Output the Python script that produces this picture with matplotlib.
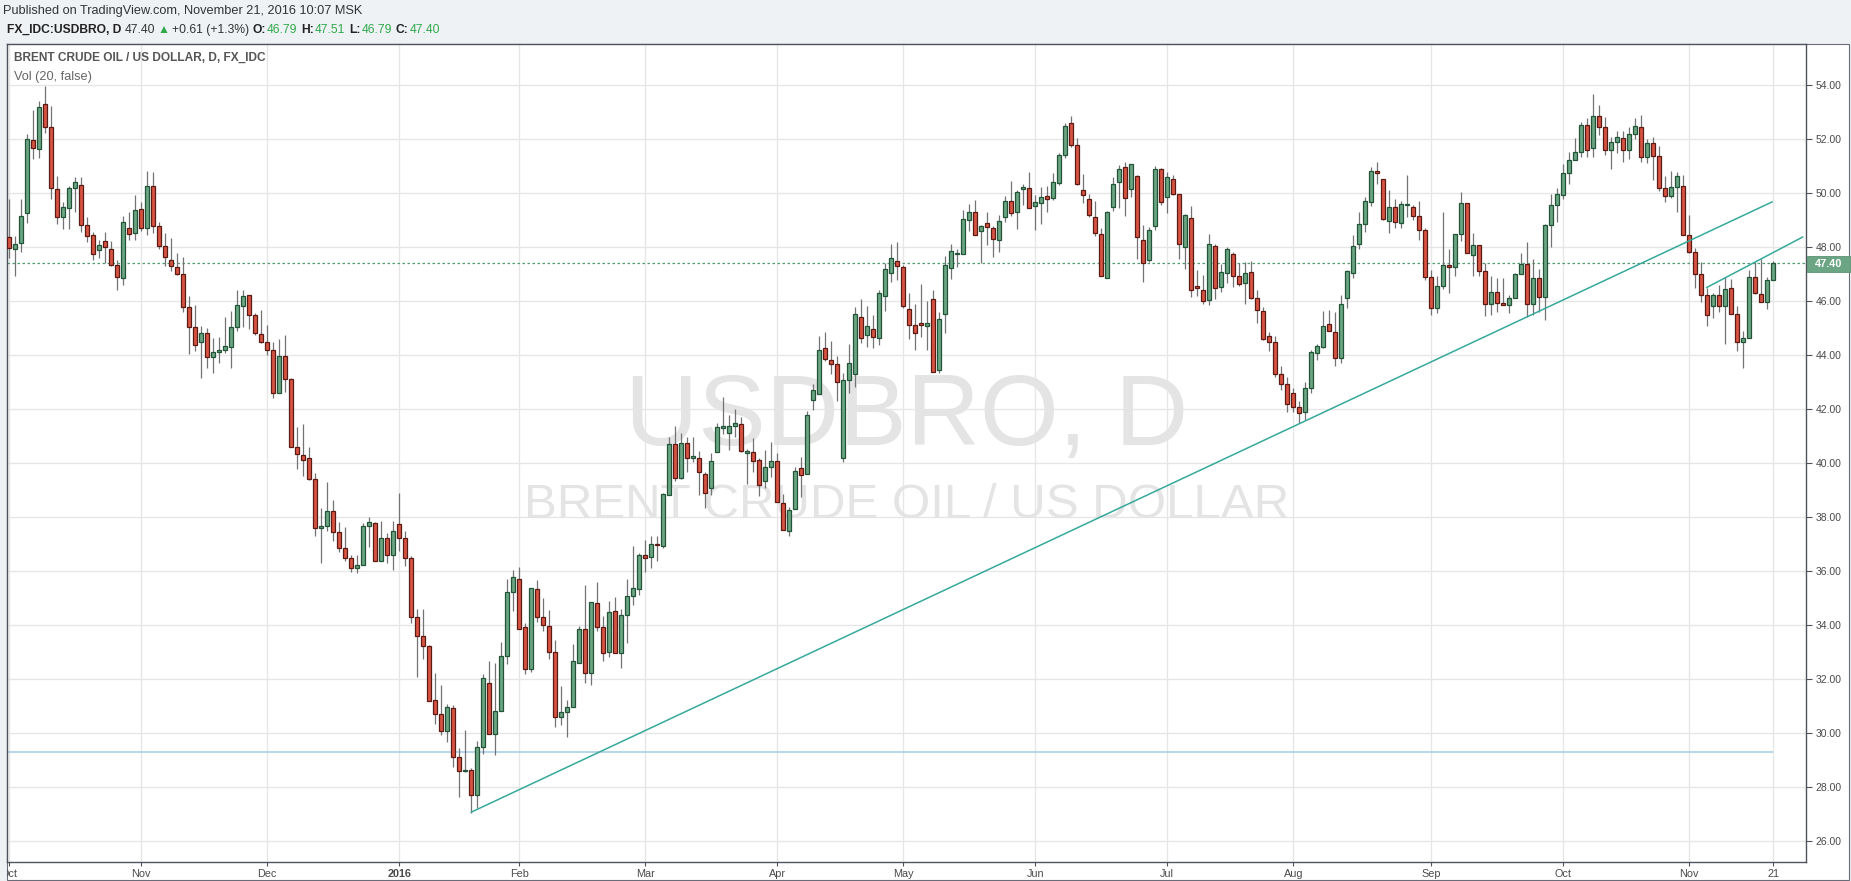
#Imports
import matplotlib
matplotlib.use('Agg')
import matplotlib.pyplot as plt
from matplotlib.patches import Rectangle
import numpy as np

plt.rcParams['font.family'] = ['Liberation Sans', 'DejaVu Sans']

#Data: daily candles FX_IDC:USDBRO, 1 Oct 2015 .. 21 Nov 2016 (trading days)
opens = [
    48.37, 47.93, 48.15, 49.26, 51.97, 51.63, 53.30, 52.45, 50.15, 49.11,
    49.45, 50.19, 50.30, 48.82, 48.45, 47.89, 48.22, 47.93, 47.36, 46.85,
    48.71, 48.52, 49.41, 48.71, 50.26, 48.78, 48.04, 47.52, 47.26, 47.00,
    45.78, 45.04, 44.48, 44.82, 43.95, 44.11, 44.18, 44.32, 45.03, 45.82,
    46.22, 45.48, 44.77, 44.48, 44.18, 42.62, 43.96, 43.11, 40.62, 40.29,
    40.18, 39.40, 37.59, 37.66, 38.23, 37.44, 36.85, 36.51, 36.11, 36.25,
    37.66, 37.77, 36.37, 37.22, 36.59, 37.74, 37.25, 36.48, 34.29, 33.62,
    33.22, 31.22, 30.70, 30.07, 30.92, 29.11, 28.60, 28.63, 27.70, 29.48,
    31.88, 29.96, 30.81, 32.85, 35.25, 35.70, 33.92, 32.37, 35.33, 34.29,
    33.96, 33.00, 30.62, 30.77, 30.96, 32.62, 33.85, 32.22, 34.81, 33.92,
    33.00, 34.54, 32.96, 34.38, 35.10, 35.34, 36.61, 36.52, 37.00, 36.95,
    38.82, 40.70, 39.45, 40.74, 40.18, 40.18, 39.61, 39.09, 40.43, 41.29,
    41.13, 41.39, 41.47, 40.37, 40.41, 40.14, 39.33, 39.88, 40.10, 38.52,
    37.50, 38.30, 39.82, 39.62, 42.35, 42.56, 44.26, 43.81, 43.67, 40.20,
    43.07, 43.30, 45.41, 44.74, 44.96, 44.63, 46.18, 47.04, 47.48, 47.26,
    45.70, 45.11, 45.19, 45.07, 46.07, 43.44, 45.52, 47.22, 47.74, 47.74,
    49.00, 49.30, 48.59, 48.89, 48.70, 48.26, 49.11, 49.72, 49.30, 50.15,
    50.18, 49.52, 49.63, 49.89, 49.81, 50.37, 51.41, 52.60, 51.80, 50.11,
    49.78, 49.11, 48.48, 46.85, 49.48, 50.41, 50.96, 50.15, 50.63, 48.26,
    47.52, 48.78, 50.89, 49.85, 50.52, 49.96, 48.00, 49.07, 46.55, 46.41,
    46.04, 48.04, 46.52, 47.04, 47.74, 46.93, 46.67, 47.07, 46.11, 45.63,
    44.70, 44.48, 43.30, 42.95, 42.60, 42.10, 41.90, 42.80, 44.07, 44.30,
    45.15, 44.85, 43.90, 46.11, 47.04, 48.11, 48.85, 49.67, 50.81, 50.52,
    48.96, 49.48, 48.89, 49.57, 49.48, 49.15, 48.63, 46.89, 45.74, 46.56,
    47.33, 47.26, 48.48, 49.63, 47.70, 48.07, 47.11, 45.89, 46.33, 45.93,
    45.85, 46.11, 47.00, 47.37, 45.89, 46.85, 46.15, 48.82, 49.56, 49.93,
    50.74, 51.22, 51.52, 52.52, 51.67, 52.85, 52.45, 51.59, 51.89, 52.05,
    51.59, 52.20, 52.45, 51.33, 51.85, 51.37, 50.18, 49.89, 50.22, 50.26,
    48.44, 47.81, 47.00, 46.22, 45.81, 46.22, 45.81, 46.48, 45.52, 44.48,
    44.63, 46.89, 46.26, 45.96, 46.79]

highs = [
    49.79, 48.43, 49.79, 52.20, 53.09, 53.43, 53.98, 53.24, 50.64, 49.68,
    50.27, 50.59, 50.59, 49.13, 48.57, 48.27, 48.57, 48.22, 47.53, 49.17,
    49.31, 49.94, 49.69, 50.83, 50.79, 48.93, 48.52, 48.34, 47.78, 47.63,
    46.19, 45.85, 45.08, 45.00, 44.64, 44.67, 45.41, 45.64, 46.41, 46.41,
    46.25, 45.56, 45.67, 45.11, 44.51, 44.59, 44.75, 43.15, 41.33, 41.44,
    40.59, 39.65, 38.34, 39.32, 38.64, 37.82, 37.64, 36.62, 36.59, 37.77,
    38.01, 37.82, 37.86, 37.40, 37.86, 38.90, 37.48, 36.56, 34.62, 34.59,
    33.26, 32.25, 31.77, 31.07, 31.03, 29.44, 30.11, 28.72, 29.71, 32.19,
    32.66, 32.59, 33.37, 35.70, 36.03, 36.16, 34.07, 35.37, 35.66, 35.00,
    34.55, 33.44, 31.74, 31.22, 33.29, 33.96, 35.48, 34.85, 35.62, 34.33,
    34.91, 35.04, 34.62, 35.70, 36.95, 36.68, 37.17, 37.29, 37.30, 38.89,
    40.97, 41.39, 41.12, 40.97, 40.97, 40.45, 39.69, 40.37, 41.51, 42.47,
    41.78, 42.00, 41.73, 40.54, 40.93, 40.21, 40.51, 40.78, 40.37, 38.87,
    38.39, 39.87, 40.24, 41.95, 42.92, 44.70, 44.85, 44.52, 43.96, 43.33,
    44.42, 45.78, 46.07, 45.81, 45.48, 46.41, 47.41, 48.11, 48.18, 47.33,
    46.30, 45.89, 46.63, 46.00, 46.41, 45.59, 47.67, 48.11, 47.93, 49.37,
    49.59, 49.74, 48.82, 49.30, 48.78, 49.19, 49.89, 50.46, 50.12, 50.35,
    50.79, 49.93, 50.23, 50.27, 50.75, 51.48, 52.60, 52.86, 52.05, 50.72,
    49.98, 49.72, 48.70, 49.33, 50.60, 51.05, 51.15, 51.08, 50.67, 48.82,
    48.74, 51.00, 50.93, 50.78, 50.69, 49.96, 49.22, 49.52, 47.15, 46.98,
    48.48, 48.11, 47.37, 48.00, 47.81, 47.41, 47.44, 47.48, 46.41, 45.78,
    44.85, 44.70, 43.60, 43.20, 42.80, 42.30, 43.00, 44.20, 44.41, 45.63,
    45.67, 45.60, 46.22, 47.15, 48.44, 49.30, 49.85, 50.96, 51.15, 50.52,
    50.11, 49.78, 49.70, 50.67, 49.56, 49.70, 48.70, 47.15, 46.93, 49.30,
    47.93, 48.48, 50.04, 49.63, 48.52, 48.07, 47.41, 46.93, 46.85, 46.85,
    46.22, 47.04, 47.78, 48.19, 47.56, 47.19, 48.85, 49.96, 50.19, 51.07,
    51.52, 52.04, 52.63, 52.78, 53.67, 53.26, 52.82, 52.10, 52.30, 52.30,
    52.45, 52.80, 52.90, 52.00, 52.10, 51.75, 50.64, 50.81, 50.78, 50.67,
    49.18, 47.96, 47.44, 46.48, 46.30, 46.59, 46.89, 46.81, 45.81, 44.89,
    47.15, 47.44, 47.55, 46.89, 47.51]

lows = [
    47.59, 46.92, 47.84, 48.89, 51.26, 51.29, 52.25, 49.79, 48.87, 48.69,
    48.69, 49.31, 48.57, 48.20, 47.53, 47.59, 47.41, 47.29, 46.40, 46.62,
    48.27, 48.27, 48.59, 48.47, 48.52, 47.93, 47.29, 47.11, 46.97, 45.62,
    44.04, 44.15, 43.15, 43.52, 43.33, 43.70, 44.07, 43.54, 44.91, 45.03,
    44.98, 44.75, 44.44, 44.01, 42.43, 42.59, 42.65, 40.59, 39.80, 39.54,
    39.38, 37.32, 36.32, 37.50, 37.13, 36.71, 36.39, 35.98, 35.95, 36.25,
    36.91, 36.37, 36.37, 36.32, 36.06, 36.74, 36.20, 34.09, 32.09, 32.76,
    31.18, 30.33, 29.92, 29.66, 28.76, 27.65, 28.58, 27.03, 27.24, 29.25,
    29.96, 29.20, 30.81, 32.55, 34.54, 33.88, 32.18, 32.26, 34.14, 33.77,
    32.74, 30.25, 30.29, 29.88, 30.96, 32.62, 31.88, 31.77, 33.77, 32.66,
    32.81, 32.96, 32.41, 33.33, 34.75, 35.13, 35.97, 36.13, 36.38, 36.85,
    38.82, 39.33, 39.41, 39.66, 40.04, 38.84, 38.33, 38.84, 40.43, 41.09,
    40.50, 40.98, 40.41, 39.25, 39.66, 38.78, 39.09, 39.51, 38.55, 37.53,
    37.30, 38.30, 38.74, 39.62, 41.98, 42.56, 43.78, 43.30, 42.30, 40.05,
    42.59, 42.82, 44.45, 44.30, 44.26, 44.37, 45.63, 46.73, 46.77, 45.74,
    44.62, 44.19, 44.67, 44.19, 43.37, 43.33, 44.82, 46.81, 47.26, 47.74,
    48.59, 48.45, 47.41, 48.07, 47.63, 47.81, 48.93, 49.16, 48.69, 49.56,
    49.44, 48.65, 48.88, 49.32, 49.74, 50.30, 51.30, 51.70, 50.30, 49.63,
    49.14, 48.40, 46.93, 46.85, 49.35, 49.44, 49.17, 49.88, 47.56, 46.70,
    47.47, 48.63, 49.56, 49.26, 49.93, 47.56, 47.19, 46.15, 46.19, 45.89,
    45.86, 46.07, 46.33, 46.67, 46.52, 46.56, 45.89, 46.07, 45.19, 44.55,
    44.15, 43.20, 42.70, 41.90, 41.90, 41.50, 41.60, 42.60, 43.83, 44.26,
    44.89, 43.60, 43.70, 45.74, 46.85, 47.93, 48.56, 49.52, 50.33, 49.00,
    48.52, 48.70, 48.70, 49.14, 49.00, 48.26, 46.78, 45.50, 45.55, 46.45,
    46.30, 46.93, 48.22, 47.78, 46.93, 46.93, 45.45, 45.50, 45.60, 45.85,
    45.55, 46.11, 47.00, 45.40, 45.50, 45.60, 45.30, 48.00, 48.93, 49.78,
    50.33, 51.22, 51.33, 51.33, 51.33, 52.15, 51.40, 50.91, 51.50, 51.16,
    51.28, 52.00, 51.16, 51.13, 50.50, 50.10, 49.67, 49.84, 49.32, 48.44,
    47.78, 46.48, 45.96, 45.07, 45.37, 45.59, 44.41, 45.52, 44.15, 43.52,
    44.63, 46.26, 45.96, 45.70, 46.79]

closes = [
    47.97, 48.13, 49.16, 52.00, 51.67, 53.19, 52.47, 50.19, 49.14, 49.48,
    50.19, 50.41, 48.82, 48.40, 47.74, 48.08, 48.00, 47.34, 46.89, 48.93,
    48.48, 49.37, 48.71, 50.26, 48.78, 48.04, 47.63, 47.30, 47.00, 45.78,
    45.04, 44.37, 44.82, 43.93, 44.11, 44.19, 44.33, 45.03, 45.85, 46.18,
    45.51, 44.81, 44.48, 44.18, 42.62, 43.99, 43.11, 40.62, 40.33, 40.14,
    39.40, 37.59, 37.66, 38.23, 37.44, 36.85, 36.51, 36.11, 36.25, 37.66,
    37.81, 36.37, 37.25, 36.59, 37.48, 37.25, 36.48, 34.29, 33.62, 33.22,
    31.18, 30.70, 30.07, 30.96, 29.11, 28.59, 28.63, 27.70, 29.48, 32.03,
    29.96, 30.81, 32.85, 35.25, 35.77, 33.88, 32.37, 35.37, 34.29, 34.00,
    33.00, 30.62, 30.77, 30.96, 32.66, 33.85, 32.22, 34.85, 33.92, 32.96,
    34.50, 32.96, 34.38, 35.10, 35.39, 36.61, 36.50, 37.01, 36.96, 38.85,
    40.70, 39.45, 40.74, 40.18, 40.26, 39.66, 38.89, 40.10, 41.33, 41.37,
    41.37, 41.51, 40.46, 40.45, 40.10, 39.21, 39.88, 40.08, 38.55, 37.53,
    38.26, 39.70, 39.58, 41.80, 42.70, 44.19, 43.85, 43.67, 43.00, 43.07,
    43.71, 45.52, 44.63, 45.07, 44.67, 46.30, 47.19, 47.60, 47.30, 45.81,
    45.11, 44.82, 45.11, 45.19, 43.37, 45.33, 47.33, 47.85, 47.78, 49.04,
    49.30, 48.45, 48.78, 48.74, 48.30, 48.96, 49.70, 49.26, 50.04, 50.22,
    49.44, 49.68, 49.85, 49.78, 50.41, 51.41, 52.50, 51.78, 50.33, 49.92,
    49.19, 48.52, 46.93, 49.30, 50.33, 50.89, 49.81, 51.08, 48.37, 47.41,
    48.63, 50.89, 49.67, 50.59, 49.96, 48.11, 49.19, 46.41, 46.48, 46.00,
    48.11, 46.48, 47.07, 47.92, 46.93, 46.63, 47.04, 46.11, 45.67, 44.59,
    44.48, 43.30, 42.95, 42.20, 42.10, 41.85, 42.80, 44.11, 44.33, 45.07,
    44.89, 43.90, 45.89, 47.11, 48.04, 48.85, 49.70, 50.81, 50.74, 49.04,
    49.48, 48.93, 49.59, 49.60, 49.15, 48.63, 46.89, 45.74, 46.56, 47.33,
    47.26, 48.48, 49.63, 47.78, 48.07, 47.11, 45.89, 46.33, 45.93, 45.85,
    46.11, 47.00, 47.37, 45.89, 46.85, 46.15, 48.82, 49.56, 49.96, 50.74,
    51.22, 51.52, 52.52, 51.59, 52.85, 52.45, 51.59, 51.89, 52.10, 51.59,
    52.20, 52.50, 51.33, 51.85, 51.37, 50.18, 49.89, 50.22, 50.63, 48.44,
    47.81, 47.00, 46.22, 45.48, 46.22, 45.81, 46.44, 45.52, 44.48, 44.63,
    46.89, 46.30, 45.96, 46.79, 47.40]

# first trading day of each month (candle index) and its label
month_pos = [0, 22, 43, 65, 85, 106, 128, 149, 171, 193, 214, 237, 259, 280, 294]
month_labels = ['Oct', 'Nov', 'Dec', '2016', 'Feb', 'Mar', 'Apr', 'May', 'Jun',
                'Jul', 'Aug', 'Sep', 'Oct', 'Nov', '21']
price_ticks = [26, 28, 30, 32, 34, 36, 38, 40, 42, 44, 46, 48, 50, 52, 54]

# drawings on the chart
trend_long_x = [77, 293.8]
trend_long_y = [27.08, 49.68]
trend_short_x = [282.9, 298.9]
trend_short_y = [46.51, 48.38]
level_line = 29.32
last_price = 47.40

#Figure
W, H = 1851, 881
fig = plt.figure(figsize=(W / 100, H / 100), dpi=100, facecolor='#eff2f5')

def fx(px):
    return px / W

def fy(py):
    return 1 - py / H

panel = Rectangle((fx(7), fy(879.5)), fx(1848.5) - fx(7), fy(43.7) - fy(879.5),
                  transform=fig.transFigure, facecolor='white',
                  edgecolor='#6a6d78', lw=0.8, zorder=-5)
fig.patches.append(panel)

ax = fig.add_axes([fx(7), fy(862), fx(1806) - fx(7), fy(43.7) - fy(862)])
ax.set_zorder(1)
ax.set_facecolor('white')
ax.set_xlim(-0.383, 299.45)
ax.set_ylim(25.233, 55.54)

o = np.array(opens)
h = np.array(highs)
l = np.array(lows)
c = np.array(closes)
x = np.arange(len(c))
up = c >= o
bottom = np.minimum(o, c)
height = np.maximum(np.abs(c - o), 0.03)

#Candles
ax.vlines(x, l, h, color='#737375', lw=0.9, zorder=3)
ax.bar(x[up], height[up], 0.64, bottom=bottom[up], color='#6ba583',
       edgecolor='#225437', lw=0.9, zorder=4)
ax.bar(x[~up], height[~up], 0.64, bottom=bottom[~up], color='#d75442',
       edgecolor='#5b1a13', lw=0.9, zorder=4)

#Drawings
ax.plot(trend_long_x, trend_long_y, color='#35a99b', lw=1.1, zorder=5)
ax.plot(trend_short_x, trend_short_y, color='#35a99b', lw=1.1, zorder=5)
ax.hlines(level_line, -0.383, 294, color='#a9cfe8', lw=1.2, zorder=2)
ax.axhline(last_price, color='#4f9c70', lw=0.9, ls=(0, (2, 2)), zorder=2.5)

#Watermark
ax.text(0.5, 0.541, 'USDBRO, D', transform=ax.transAxes, ha='center', va='center',
        fontsize=73, color='#e4e4e4', zorder=1)
ax.text(0.5, 0.436, 'BRENT CRUDE OIL / US DOLLAR', transform=ax.transAxes,
        ha='center', va='center', fontsize=35.5, color='#e4e4e4', zorder=1)

#Axes
ax.set_axisbelow(True)
ax.grid(color='#e6e6e6', lw=1)
for s in ax.spines.values():
    s.set_color('#50535e')
    s.set_linewidth(1)
ax.yaxis.tick_right()
ax.set_yticks(price_ticks)
ax.set_yticklabels(['%.2f' % p for p in price_ticks])
ax.tick_params(axis='y', length=4, width=0.8, color='#50535e', pad=3,
               labelsize=7.5, labelcolor='#4a4a4a')
ax.set_xticks(month_pos)
ax.set_xticklabels(month_labels)
ax.tick_params(axis='x', length=3, width=0.8, color='#50535e', pad=2,
               labelsize=7.8, labelcolor='#4a4a4a')
xl = ax.get_xticklabels()
xl[3].set_fontweight('bold')
xl[0].set_clip_on(True)
xl[0].set_clip_path(panel)

#Last price tag on the price scale
fig.patches.append(Rectangle((fx(1807), fy(272)), fx(1850) - fx(1807), fy(256) - fy(272),
                             transform=fig.transFigure, facecolor='#6ba583',
                             edgecolor='#5c9474', lw=0.6, zorder=5))
fig.text(fx(1828.5), fy(264), '%.2f' % last_price, ha='center', va='center',
         color='white', fontsize=7.8, fontweight='bold', zorder=6)

#Labels inside the chart
fig.text(fx(14), fy(58), 'BRENT CRUDE OIL / US DOLLAR, D, FX_IDC', fontsize=8.6,
         fontweight='bold', color='#555555', va='center', zorder=6)
fig.text(fx(14), fy(77), 'Vol (20, false)', fontsize=9.2, color='#666666', va='center',
         zorder=6)

#Header
fig.text(fx(3), fy(11), 'Published on TradingView.com, November 21, 2016 10:07 MSK',
         fontsize=9.2, color='#333333', va='center')

green = '#2fa84a'
pieces = [('FX_IDC:USDBRO, D', '#222222', True, 3),
          ('47.40', '#333333', False, 3),
          ('\u25b2', green, False, 2),
          ('+0.61 (+1.3%)', '#333333', False, 3),
          ('O:', '#222222', True, 1), ('46.79', green, False, 4),
          ('H:', '#222222', True, 1), ('47.51', green, False, 4),
          ('L:', '#222222', True, 1), ('46.79', green, False, 4),
          ('C:', '#222222', True, 1), ('47.40', green, False, 0)]
r = fig.canvas.get_renderer()
xpos = 7
for txt, col, bold, gap in pieces:
    t = fig.text(fx(xpos), fy(30), txt, fontsize=8.7, color=col, va='center',
                 fontweight='bold' if bold else 'normal')
    xpos = t.get_window_extent(r).x1 + gap

fig.savefig('out.png', dpi=100, facecolor=fig.get_facecolor())
